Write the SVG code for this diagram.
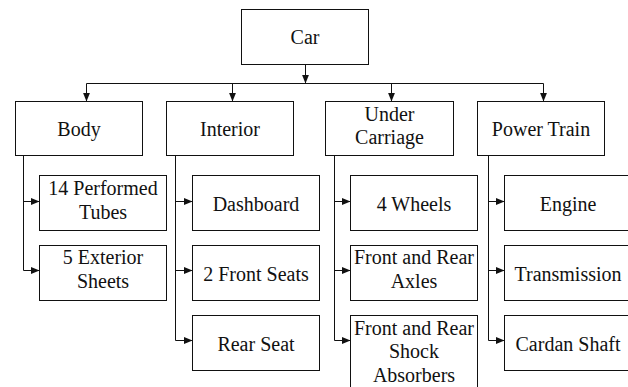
<svg xmlns="http://www.w3.org/2000/svg" width="628" height="387" viewBox="0 0 628 387">
  <defs>
    <marker id="arr" viewBox="0 0 10 8" refX="10" refY="4" markerWidth="9" markerHeight="7" markerUnits="userSpaceOnUse" orient="auto">
      <path d="M0,0 L10,4 L0,8 z" fill="#111"/>
    </marker>
  </defs>
  <rect width="628" height="387" fill="#ffffff"/>

  <g id="connectors" fill="none" stroke="#111" stroke-width="1">
    <path d="M305.5,64.5 V83.5" marker-end="url(#arr)"/>
    <path d="M86.5,83.5 H543.5"/>
    <path d="M86.5,83.5 V101.5" marker-end="url(#arr)"/>
    <path d="M232.5,83.5 V101.5" marker-end="url(#arr)"/>
    <path d="M391.5,83.5 V101.5" marker-end="url(#arr)"/>
    <path d="M543.5,83.5 V101.5" marker-end="url(#arr)"/>

    <path d="M23.5,155.5 V270.5"/>
    <path d="M23.5,201.5 H39.5" marker-end="url(#arr)"/>
    <path d="M23.5,270.5 H39.5" marker-end="url(#arr)"/>

    <path d="M175.5,155.5 V340.5"/>
    <path d="M175.5,201.5 H192.5" marker-end="url(#arr)"/>
    <path d="M175.5,270.5 H192.5" marker-end="url(#arr)"/>
    <path d="M175.5,340.5 H192.5" marker-end="url(#arr)"/>

    <path d="M334.5,155.5 V340.5"/>
    <path d="M334.5,201.5 H350.5" marker-end="url(#arr)"/>
    <path d="M334.5,270.5 H350.5" marker-end="url(#arr)"/>
    <path d="M334.5,340.5 H350.5" marker-end="url(#arr)"/>

    <path d="M488.5,155.5 V340.5"/>
    <path d="M488.5,201.5 H504.5" marker-end="url(#arr)"/>
    <path d="M488.5,270.5 H504.5" marker-end="url(#arr)"/>
    <path d="M488.5,340.5 H504.5" marker-end="url(#arr)"/>
  </g>

  <g id="nodes">
  <g id="car">
    <rect x="241.5" y="9.5" width="127" height="55" fill="#fff" stroke="#111"/>
    <text x="305" y="44" font-family="Liberation Serif" font-size="20" fill="#111" text-anchor="middle">Car</text>
  </g>

  <g id="body">
    <rect x="15.5" y="101.5" width="127" height="54" fill="#fff" stroke="#111"/>
    <text x="79" y="136" font-family="Liberation Serif" font-size="20" fill="#111" text-anchor="middle">Body</text>
  </g>
  <g id="interior">
    <rect x="166.5" y="101.5" width="127" height="54" fill="#fff" stroke="#111"/>
    <text x="230" y="136" font-family="Liberation Serif" font-size="20" fill="#111" text-anchor="middle">Interior</text>
  </g>
  <g id="under-carriage">
    <rect x="325.5" y="101.5" width="128" height="54" fill="#fff" stroke="#111"/>
    <text x="389.5" y="120.5" font-family="Liberation Serif" font-size="20" fill="#111" text-anchor="middle">Under</text>
    <text x="389.5" y="143.5" font-family="Liberation Serif" font-size="20" fill="#111" text-anchor="middle">Carriage</text>
  </g>
  <g id="power-train">
    <rect x="477.5" y="101.5" width="127" height="54" fill="#fff" stroke="#111"/>
    <text x="541" y="136" font-family="Liberation Serif" font-size="20" fill="#111" text-anchor="middle">Power Train</text>
  </g>

  <g id="tubes">
    <rect x="39.5" y="175.5" width="127" height="55" fill="#fff" stroke="#111"/>
    <text x="103" y="195" font-family="Liberation Serif" font-size="20" fill="#111" text-anchor="middle">14 Performed</text>
    <text x="103" y="218.5" font-family="Liberation Serif" font-size="20" fill="#111" text-anchor="middle">Tubes</text>
  </g>
  <g id="sheets">
    <rect x="39.5" y="245.5" width="127" height="55" fill="#fff" stroke="#111"/>
    <text x="103" y="264" font-family="Liberation Serif" font-size="20" fill="#111" text-anchor="middle">5 Exterior</text>
    <text x="103" y="287.5" font-family="Liberation Serif" font-size="20" fill="#111" text-anchor="middle">Sheets</text>
  </g>

  <g id="dashboard">
    <rect x="192.5" y="175.5" width="127" height="55" fill="#fff" stroke="#111"/>
    <text x="256" y="211" font-family="Liberation Serif" font-size="20" fill="#111" text-anchor="middle">Dashboard</text>
  </g>
  <g id="front-seats">
    <rect x="192.5" y="245.5" width="127" height="55" fill="#fff" stroke="#111"/>
    <text x="256" y="280.5" font-family="Liberation Serif" font-size="20" fill="#111" text-anchor="middle">2 Front Seats</text>
  </g>
  <g id="rear-seat">
    <rect x="192.5" y="315.5" width="127" height="55" fill="#fff" stroke="#111"/>
    <text x="256" y="350.5" font-family="Liberation Serif" font-size="20" fill="#111" text-anchor="middle">Rear Seat</text>
  </g>

  <g id="wheels">
    <rect x="350.5" y="175.5" width="127" height="55" fill="#fff" stroke="#111"/>
    <text x="414" y="211" font-family="Liberation Serif" font-size="20" fill="#111" text-anchor="middle">4 Wheels</text>
  </g>
  <g id="axles">
    <rect x="350.5" y="245.5" width="127" height="55" fill="#fff" stroke="#111"/>
    <text x="414" y="264" font-family="Liberation Serif" font-size="20" fill="#111" text-anchor="middle">Front and Rear</text>
    <text x="414" y="287.5" font-family="Liberation Serif" font-size="20" fill="#111" text-anchor="middle">Axles</text>
  </g>
  <g id="shock-absorbers">
    <rect x="350.5" y="315.5" width="127" height="80" fill="#fff" stroke="#111"/>
    <text x="414" y="335" font-family="Liberation Serif" font-size="20" fill="#111" text-anchor="middle">Front and Rear</text>
    <text x="414" y="358" font-family="Liberation Serif" font-size="20" fill="#111" text-anchor="middle">Shock</text>
    <text x="414" y="381.5" font-family="Liberation Serif" font-size="20" fill="#111" text-anchor="middle">Absorbers</text>
  </g>

  <g id="engine">
    <rect x="504.5" y="175.5" width="127" height="55" fill="#fff" stroke="#111"/>
    <text x="568" y="211" font-family="Liberation Serif" font-size="20" fill="#111" text-anchor="middle">Engine</text>
  </g>
  <g id="transmission">
    <rect x="504.5" y="245.5" width="127" height="55" fill="#fff" stroke="#111"/>
    <text x="568" y="280.5" font-family="Liberation Serif" font-size="20" fill="#111" text-anchor="middle">Transmission</text>
  </g>
  <g id="cardan-shaft">
    <rect x="504.5" y="315.5" width="127" height="55" fill="#fff" stroke="#111"/>
    <text x="568" y="350.5" font-family="Liberation Serif" font-size="20" fill="#111" text-anchor="middle">Cardan Shaft</text>
  </g>
  </g>
</svg>
